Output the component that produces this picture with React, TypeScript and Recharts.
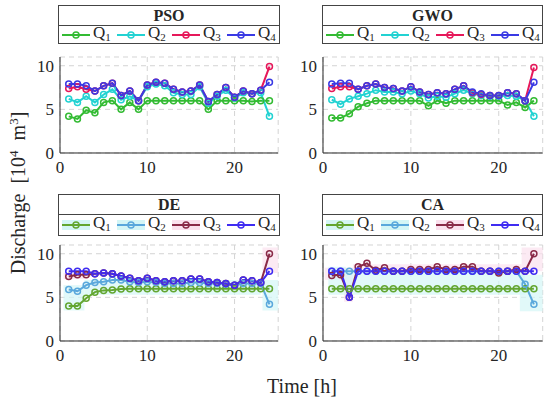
import React from 'react';
import { LineChart, Line, XAxis, YAxis, CartesianGrid, ReferenceArea } from 'recharts';

// time axis (hours)
const hours = [1, 2, 3, 4, 5, 6, 7, 8, 9, 10, 11, 12, 13, 14, 15, 16, 17, 18, 19, 20, 21, 22, 23, 24];
const xTicks = [0, 10, 20];
const yTicks = [0, 5, 10];

// PSO
const psoQ1 = [4.2, 3.9, 4.9, 4.6, 5.8, 6.0, 5.0, 5.8, 5.0, 6.0, 6.0, 6.0, 6.0, 6.0, 6.0, 6.0, 5.0, 6.0, 6.0, 6.0, 6.0, 5.9, 6.0, 6.0];
const psoQ2 = [6.2, 5.8, 6.5, 5.8, 6.7, 7.3, 6.1, 6.5, 6.0, 7.6, 7.9, 7.7, 6.9, 6.7, 6.7, 7.6, 5.7, 6.5, 7.2, 6.3, 6.9, 6.8, 6.9, 4.2];
const psoQ3 = [7.4, 7.6, 7.3, 7.1, 7.7, 8.0, 6.6, 7.1, 6.0, 7.8, 8.1, 8.0, 7.3, 7.0, 7.1, 7.8, 5.9, 6.7, 7.5, 6.4, 7.1, 6.8, 7.2, 9.9];
const psoQ4 = [7.9, 7.9, 7.7, 7.1, 7.7, 8.0, 6.6, 7.1, 6.0, 7.8, 8.1, 8.0, 7.3, 7.0, 7.1, 7.8, 5.9, 6.7, 7.5, 6.4, 7.1, 6.8, 7.2, 8.1];

// GWO
const gwoQ1 = [4.0, 4.0, 4.5, 5.3, 5.7, 6.0, 6.0, 6.0, 6.0, 6.0, 6.0, 5.4, 6.0, 5.7, 6.0, 6.0, 6.0, 6.0, 6.0, 6.0, 5.5, 5.8, 5.2, 6.0];
const gwoQ2 = [6.1, 5.6, 6.2, 6.5, 6.8, 7.2, 7.0, 7.0, 6.8, 7.1, 6.8, 6.3, 6.5, 6.4, 6.8, 7.2, 6.8, 6.6, 6.5, 6.5, 6.6, 6.5, 6.0, 4.2];
const gwoQ3 = [7.4, 7.6, 7.6, 7.3, 7.7, 7.9, 7.5, 7.4, 7.1, 7.6, 7.0, 6.7, 6.9, 6.8, 7.3, 7.7, 6.9, 6.7, 6.6, 6.6, 6.9, 6.8, 6.0, 9.8];
const gwoQ4 = [7.9, 8.0, 8.0, 7.3, 7.7, 7.9, 7.5, 7.4, 7.1, 7.6, 7.0, 6.7, 6.9, 6.8, 7.3, 7.7, 7.0, 6.8, 6.6, 6.6, 6.9, 6.8, 6.0, 8.1];

// DE
const deQ1 = [4.0, 4.0, 4.9, 5.6, 5.8, 5.85, 5.95, 6.0, 6.0, 6.0, 6.0, 6.0, 6.0, 6.0, 6.0, 6.0, 6.0, 6.0, 6.0, 6.0, 6.0, 6.0, 6.0, 6.0];
const deQ2 = [5.9, 5.7, 6.4, 6.7, 6.8, 7.0, 7.0, 6.8, 6.7, 6.8, 6.7, 6.6, 6.6, 6.6, 6.7, 6.7, 6.6, 6.6, 6.5, 6.4, 6.6, 6.6, 6.6, 4.2];
const deQ3 = [7.4, 7.6, 7.6, 7.7, 7.8, 7.7, 7.45, 7.2, 6.9, 7.2, 6.9, 6.8, 6.9, 6.9, 7.1, 7.1, 6.8, 6.7, 6.6, 6.4, 7.0, 6.9, 6.7, 10.0];
const deQ4 = [8.0, 8.0, 8.0, 7.7, 7.8, 7.7, 7.45, 7.2, 6.9, 7.2, 6.9, 6.8, 6.9, 6.9, 7.1, 7.1, 6.8, 6.7, 6.6, 6.4, 7.0, 6.9, 6.7, 8.0];

// CA
const caQ1 = [6.0, 6.0, 6.0, 6.0, 6.0, 6.0, 6.0, 6.0, 6.0, 6.0, 6.0, 6.0, 6.0, 6.0, 6.0, 6.0, 6.0, 6.0, 6.0, 6.0, 6.0, 6.0, 6.0, 6.0];
const caQ2 = [8.0, 8.0, 8.0, 8.0, 8.0, 8.0, 8.0, 8.0, 8.0, 8.0, 8.0, 8.0, 8.0, 8.0, 8.0, 8.0, 8.0, 8.0, 8.0, 8.0, 8.0, 8.0, 6.5, 4.2];
const caQ3 = [7.5, 7.6, 5.0, 8.5, 8.9, 8.1, 8.4, 8.0, 8.0, 8.2, 8.2, 8.2, 8.5, 8.2, 8.2, 8.5, 8.5, 8.0, 8.0, 7.8, 8.0, 8.2, 8.0, 10.0];
const caQ4 = [8.0, 8.0, 5.0, 8.0, 8.0, 8.0, 8.0, 8.0, 8.0, 8.0, 8.0, 8.0, 8.0, 8.0, 8.0, 8.0, 8.0, 8.0, 8.0, 8.0, 8.0, 8.0, 8.0, 8.0];

const FONT = 'Liberation Serif, Times New Roman, Times, serif';
const INK = '#262626';
const BRIGHT = ['#33bb33', '#22d2d2', '#e6185a', '#3a3ae4'];
const MUTED = ['#63a631', '#5aa8dc', '#8a2a48', '#3f2cf2'];
const CYAN_BG = '#d4f6f6';
const PINK_BG = '#fbe1ee';

type Shade = { x1: number; x2: number; y1: number; y2: number; fill: string };

const deShades: Shade[] = [
  { x1: 0.4, x2: 2.8, y1: 3.5, y2: 6.4, fill: CYAN_BG },
  { x1: 2.8, x2: 23.0, y1: 5.3, y2: 7.0, fill: CYAN_BG },
  { x1: 0.4, x2: 2.8, y1: 7.1, y2: 7.8, fill: PINK_BG },
  { x1: 23.2, x2: 25, y1: 3.5, y2: 7.0, fill: CYAN_BG },
  { x1: 23.2, x2: 25, y1: 7.8, y2: 10.7, fill: PINK_BG },
];

const caShades: Shade[] = [
  { x1: 0.2, x2: 3.4, y1: 7.0, y2: 8.4, fill: PINK_BG },
  { x1: 2.4, x2: 3.4, y1: 4.5, y2: 7.0, fill: PINK_BG },
  { x1: 0.6, x2: 2.6, y1: 7.6, y2: 8.5, fill: CYAN_BG },
  { x1: 3.4, x2: 22.6, y1: 7.9, y2: 8.8, fill: PINK_BG },
  { x1: 0.6, x2: 23.0, y1: 5.3, y2: 7.9, fill: CYAN_BG },
  { x1: 22.4, x2: 25, y1: 3.4, y2: 7.6, fill: CYAN_BG },
  { x1: 22.6, x2: 25, y1: 8.0, y2: 10.7, fill: PINK_BG },
];

const keys = ['q1', 'q2', 'q3', 'q4'];

function Panel({ x0, y0, x1, y1, series, colors, shades = [] }: {
  x0: number; y0: number; x1: number; y1: number;
  series: number[][]; colors: string[]; shades?: Shade[];
}) {
  const padL = 45, padT = 10, padR = 10, padB = 30;
  const width = x1 - x0 + padL + padR;
  const height = y1 - y0 + padT + padB;
  const data = hours.map((t, i) => ({
    t, q1: series[0][i], q2: series[1][i], q3: series[2][i], q4: series[3][i],
  }));
  const tick = { fill: INK, fontSize: 17, fontFamily: FONT };
  return (
    <div style={{ position: 'absolute', left: x0 - padL, top: y0 - padT, fontFamily: FONT }}>
      <LineChart width={width} height={height} data={data} margin={{ top: padT, right: padR, bottom: 0, left: 0 }}
        style={{ fontFamily: FONT }}>
        <CartesianGrid stroke="#d4d4d4" strokeDasharray="5 4" />
        {shades.map((s, i) => (
          <ReferenceArea key={i} x1={s.x1} x2={s.x2} y1={s.y1} y2={s.y2} fill={s.fill} fillOpacity={0.7} stroke="none" />
        ))}
        <XAxis dataKey="t" type="number" domain={[0, 25]} ticks={xTicks} interval={0} height={padB}
          tickLine={false} axisLine={{ stroke: INK }} tick={tick} tickMargin={2} />
        <YAxis type="number" domain={[0, 11]} ticks={yTicks} interval={0} width={padL}
          tickLine={false} axisLine={{ stroke: INK }} tick={tick} tickMargin={0} />
        {keys.map((k, i) => (
          <Line key={k} type="linear" dataKey={k} stroke={colors[i]} strokeWidth={2}
            dot={{ r: 3, fill: 'none', stroke: colors[i], strokeWidth: 1.5 }}
            isAnimationActive={false} />
        ))}
      </LineChart>
    </div>
  );
}

function LegendBox({ left, top, width, titleH, rowH, title, colors, patches }: {
  left: number; top: number; width: number; titleH: number; rowH: number;
  title: string; colors: string[]; patches?: (string | null)[];
}) {
  return (
    <div style={{
      position: 'absolute', left, top, width, height: titleH + rowH,
      border: '1px solid #444', boxSizing: 'border-box', background: '#fff', fontFamily: FONT, color: INK,
    }}>
      <div style={{ height: titleH - 1, lineHeight: `${titleH - 1}px`, textAlign: 'center', fontWeight: 'bold', fontSize: 16 }}>
        {title}
      </div>
      <div style={{ borderTop: '1px solid #444', height: rowH - 2, position: 'relative' }}>
        {colors.map((c, i) => (
          <div key={i} style={{ position: 'absolute', left: 3 + 55 * i, top: 0, height: rowH - 2, display: 'flex', alignItems: 'center' }}>
            <svg width={28} height={12} style={{ display: 'block' }}>
              {patches && patches[i] && <rect x={0} y={1} width={28} height={10} fill={patches[i] as string} />}
              <line x1={0} y1={6} x2={28} y2={6} stroke={c} strokeWidth={2} />
              <circle cx={14} cy={6} r={3} fill="none" stroke={c} strokeWidth={1.5} />
            </svg>
            <span style={{ fontSize: 17, marginLeft: 3, lineHeight: '17px' }}>
              Q<sub style={{ fontSize: 11, verticalAlign: '-3px' }}>{i + 1}</sub>
            </span>
          </div>
        ))}
      </div>
    </div>
  );
}

export default function App() {
  const mutedPatches = [CYAN_BG, CYAN_BG, PINK_BG, null];
  return (
    <div style={{ position: 'absolute', left: 0, top: 0, width: 550, height: 399, background: '#fff', overflow: 'hidden', fontFamily: FONT }}>
      <Panel x0={60.4} y0={57} x1={278.6} y1={153} series={[psoQ1, psoQ2, psoQ3, psoQ4]} colors={BRIGHT} />
      <Panel x0={323.3} y0={57} x1={543} y1={153} series={[gwoQ1, gwoQ2, gwoQ3, gwoQ4]} colors={BRIGHT} />
      <Panel x0={60.4} y0={245} x1={278.6} y1={341} series={[deQ1, deQ2, deQ3, deQ4]} colors={MUTED} shades={deShades} />
      <Panel x0={323.3} y0={245} x1={543} y1={341} series={[caQ1, caQ2, caQ3, caQ4]} colors={MUTED} shades={caShades} />

      <LegendBox left={58} top={5} width={222} titleH={20} rowH={19} title="PSO" colors={BRIGHT} />
      <LegendBox left={322} top={5} width={221} titleH={20} rowH={19} title="GWO" colors={BRIGHT} />
      <LegendBox left={58} top={194} width={222} titleH={20} rowH={22} title="DE" colors={MUTED} patches={mutedPatches} />
      <LegendBox left={322} top={194} width={221} titleH={20} rowH={22} title="CA" colors={MUTED} patches={mutedPatches} />

      <div style={{
        position: 'absolute', left: 16, top: 193, transform: 'translate(-50%, -50%) rotate(-90deg)',
        whiteSpace: 'nowrap', fontSize: 20, color: INK, lineHeight: '22px',
      }}>
        Discharge&nbsp;&nbsp;[10<sup style={{ fontSize: 13 }}>4</sup>&nbsp;&nbsp;m<sup style={{ fontSize: 13 }}>3</sup>]
      </div>
      <div style={{
        position: 'absolute', left: 302, top: 386, transform: 'translate(-50%, -50%)',
        whiteSpace: 'nowrap', fontSize: 20, color: INK,
      }}>
        Time [h]
      </div>
    </div>
  );
}
